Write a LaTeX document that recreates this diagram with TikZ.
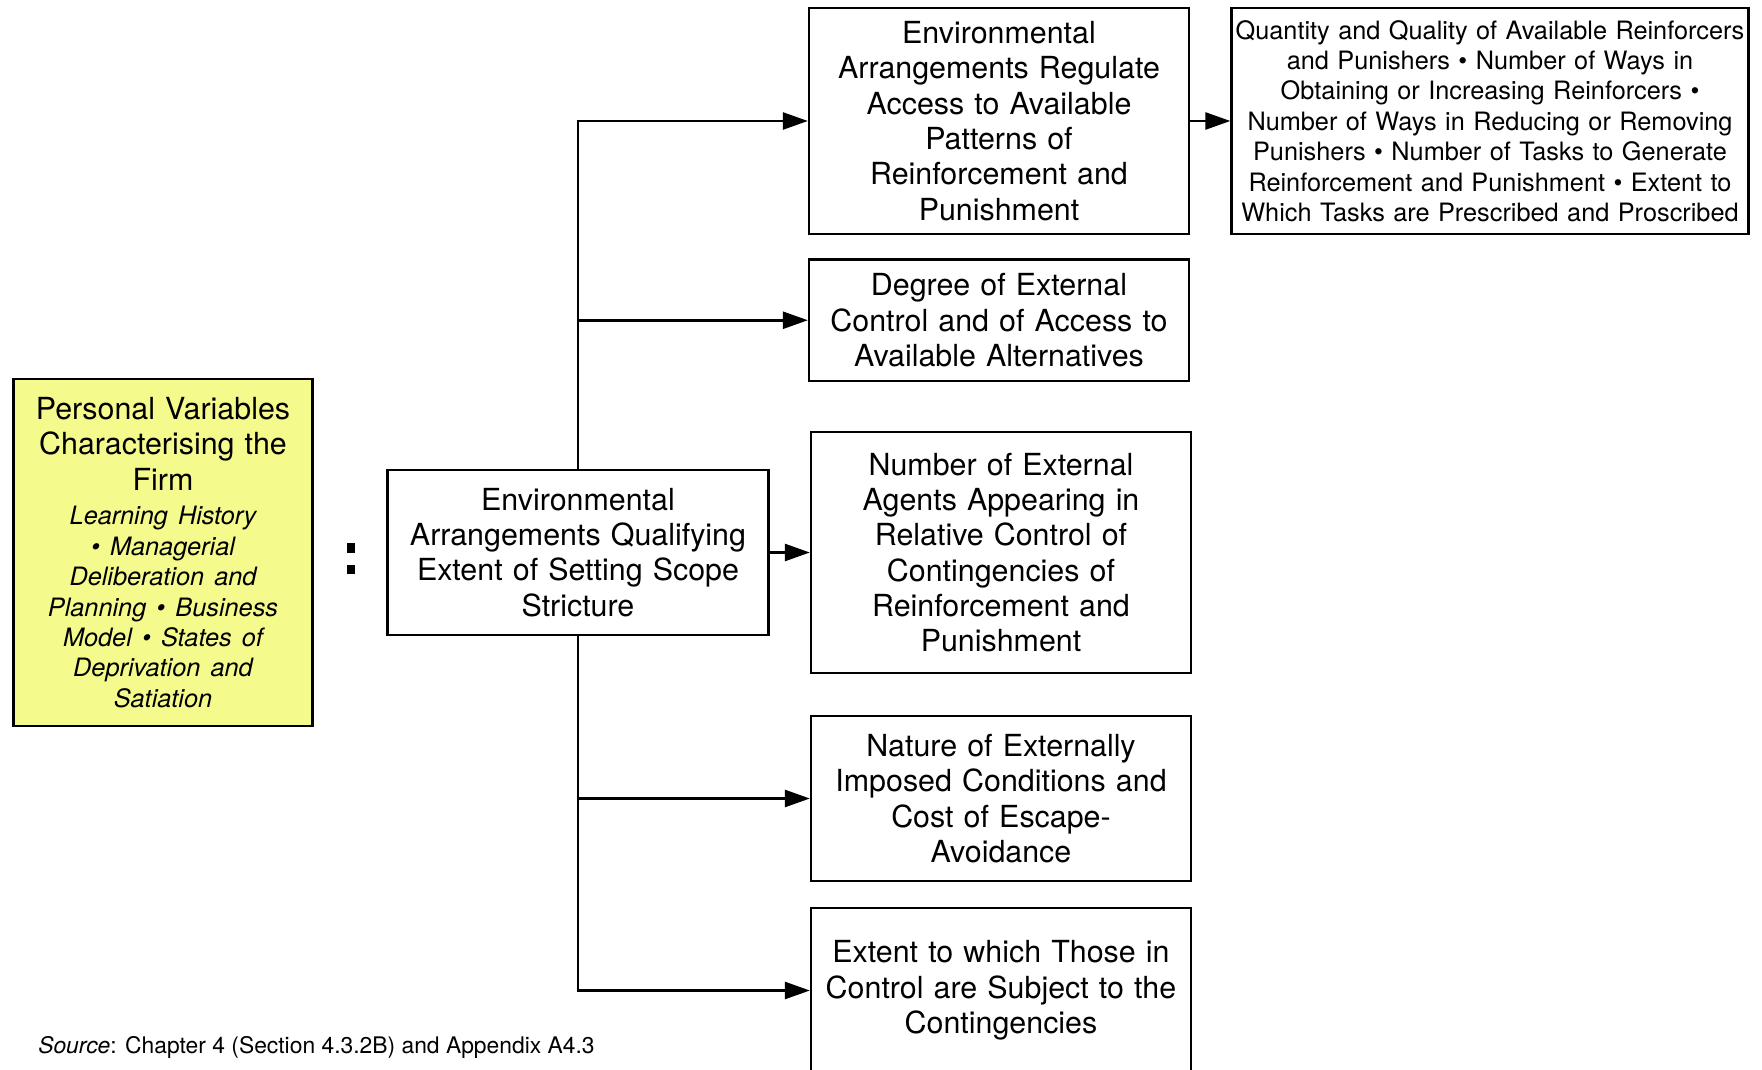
\documentclass[tikz,border=0pt]{standalone}
\usepackage{fontspec}
\setmainfont{TeX Gyre Heros}
\usetikzlibrary{arrows.meta}

\definecolor{firmyellow}{RGB}{244,250,140}

\begin{document}
\begin{tikzpicture}[>={Triangle[length=0.5cm, width=0.34cm]}, line width=1.45pt,
  box/.style={draw, line width=1.3pt, align=center, inner sep=0pt,
    text width=7.2cm, minimum width=7.6cm,
    font=\fontsize{17.3}{20.1}\selectfont},
  small box/.style={box, text width=10.2cm, minimum width=10.34cm,
    font=\fontsize{14.4}{17.3}\selectfont}]

\useasboundingbox (0,0) rectangle (35.24,-21.4);

% Personal variables of the firm
\node[box, fill=firmyellow, text width=5.6cm, minimum width=5.98cm, minimum height=6.94cm]
  (firm) at (3.26,-11.05)
  {Personal Variables\\ Characterising the\\ Firm\par\vspace{2.5pt}
   \fontsize{14.4}{17.3}\selectfont\itshape
   Learning History\\ • Managerial\\ Deliberation and\\ Planning • Business\\
   Model • States of\\ Deprivation and\\ Satiation\par};

% Colon between the two halves
\fill (6.94,-10.86) rectangle (7.10,-11.06);
\fill (6.94,-11.30) rectangle (7.10,-11.48);

% Setting scope
\node[box, minimum width=7.62cm, minimum height=3.30cm] (scope) at (11.56,-11.05)
  {Environmental\\ Arrangements Qualifying\\ Extent of Setting Scope\\ Stricture};

% Right column
\node[box, minimum height=4.52cm] (regulate) at (19.98,-2.42)
  {Environmental\\ Arrangements Regulate\\ Access to Available\\ Patterns of\\ Reinforcement and\\ Punishment};
\node[small box, minimum height=4.52cm] (quantity) at (29.80,-2.42)
  {Quantity and Quality of Available Reinforcers\\ and Punishers • Number of Ways in\\
   Obtaining or Increasing Reinforcers •\\ Number of Ways in Reducing or Removing\\
   Punishers • Number of Tasks to Generate\\ Reinforcement and Punishment • Extent to\\
   Which Tasks are Prescribed and Proscribed};
\node[box, minimum height=2.43cm] (control) at (19.98,-6.405)
  {Degree of External\\ Control and of Access to\\ Available Alternatives};
\node[box, minimum height=4.83cm] (agents) at (20.02,-11.05)
  {Number of External\\ Agents Appearing in\\ Relative Control of\\ Contingencies of\\ Reinforcement and\\ Punishment};
\node[box, minimum height=3.30cm] (imposed) at (20.02,-15.97)
  {Nature of Externally\\ Imposed Conditions and\\ Cost of Escape-\\ Avoidance};
\node[box, minimum height=3.30cm] (subject) at (20.02,-19.81)
  {Extent to which Those in\\ Control are Subject to the\\ Contingencies};

% Connectors
\draw[->] (scope.north) |- (regulate.west);
\draw[->] (scope.north) |- (control.west);
\draw[->] (scope.east) -- (agents.west);
\draw[->] (scope.south) |- (imposed.west);
\draw[->] (scope.south) |- (subject.west);
\draw[->] (regulate.east) -- (quantity.west);

% Source line
\node[anchor=west, inner sep=0pt, font=\fontsize{13}{15.6}\selectfont] (source) at (0.74,-20.94)
  {\textit{Source}: Chapter 4 (Section 4.3.2B) and Appendix A4.3};

\end{tikzpicture}
\end{document}
